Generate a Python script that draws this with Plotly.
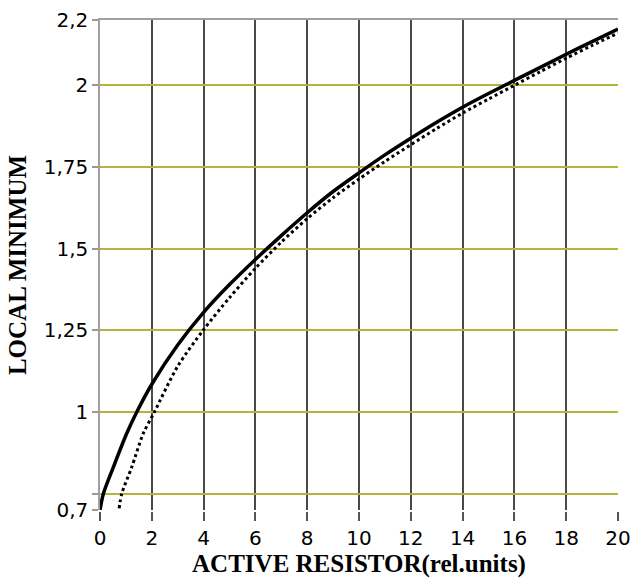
import plotly.graph_objects as go

# Data
x_solid = [0.0, 0.13, 0.51, 1.03, 1.42, 2, 3, 4, 5, 6, 7, 8, 9, 10, 11, 12, 13, 14, 15, 16, 17, 18, 19, 20]
y_solid = [0.70, 0.75, 0.83, 0.934, 1.00, 1.085, 1.205, 1.305, 1.39, 1.467, 1.54, 1.61, 1.675, 1.732, 1.787, 1.838,
           1.887, 1.933, 1.975, 2.015, 2.055, 2.095, 2.134, 2.172]

x_dot = [0.74, 0.84, 1.22, 1.67, 2.1, 3, 4, 5, 6, 7, 8, 9, 10, 11, 12, 13, 14, 15, 16, 17, 18, 19, 20]
y_dot = [0.705, 0.75, 0.83, 0.934, 1.0, 1.14, 1.252, 1.35, 1.44, 1.52, 1.592, 1.656, 1.713, 1.767, 1.818,
         1.868, 1.915, 1.958, 2.0, 2.042, 2.083, 2.122, 2.16]

x_ticks = [0, 2, 4, 6, 8, 10, 12, 14, 16, 18, 20]
y_ticks = [0.7, 0.75, 1, 1.25, 1.5, 1.75, 2, 2.2]
y_ticktext = ["0,7", "", "1", "1,25", "1,5", "1,75", "2", "2,2"]

fig = go.Figure()
fig.add_trace(go.Scatter(x=x_solid, y=y_solid, mode="lines",
                         line=dict(color="black", width=3.5, shape="spline", smoothing=0.8),
                         showlegend=False))
fig.add_trace(go.Scatter(x=x_dot, y=y_dot, mode="lines",
                         line=dict(color="black", width=3, dash="dot", shape="spline", smoothing=0.8),
                         showlegend=False))
# top border
fig.add_trace(go.Scatter(x=[None], y=[None], xaxis="x2", showlegend=False))

tick_font = dict(family="DejaVu Sans", size=20, color="black")
title_font = dict(family="Liberation Serif", size=25, color="black", weight="bold")

fig.update_layout(
    width=631, height=581,
    margin=dict(l=100, r=13, t=20, b=71),
    plot_bgcolor="white", paper_bgcolor="white",
    xaxis=dict(range=[0, 20], tickvals=x_ticks, tickfont=tick_font, automargin=False,
               showgrid=True, gridcolor="#4a4a4a", gridwidth=1.5, zeroline=False,
               ticks="outside", ticklen=9, tickcolor="#555555", tickwidth=1.5,
               showline=True, linecolor="white", linewidth=2,
               title=dict(text="ACTIVE RESISTOR(rel.units)", font=title_font, standoff=4)),
    xaxis2=dict(range=[0, 20], overlaying="x", side="top", showline=True, linecolor="#a0a0a0", linewidth=1.5,
                showticklabels=False, ticks="", showgrid=False, zeroline=False, automargin=False),
    yaxis=dict(range=[0.7, 2.2], tickvals=y_ticks, ticktext=y_ticktext, tickfont=tick_font, automargin=False,
               showgrid=True, gridcolor="#b4b43c", gridwidth=2, zeroline=False,
               ticks="outside", ticklen=6, tickcolor="#999999", tickwidth=1.5,
               showline=True, linecolor="#a0a0a0", linewidth=1.5, mirror=False,
               title=dict(text="LOCAL MINIMUM", font=title_font, standoff=10)),
)
fig.write_html("out.html")
